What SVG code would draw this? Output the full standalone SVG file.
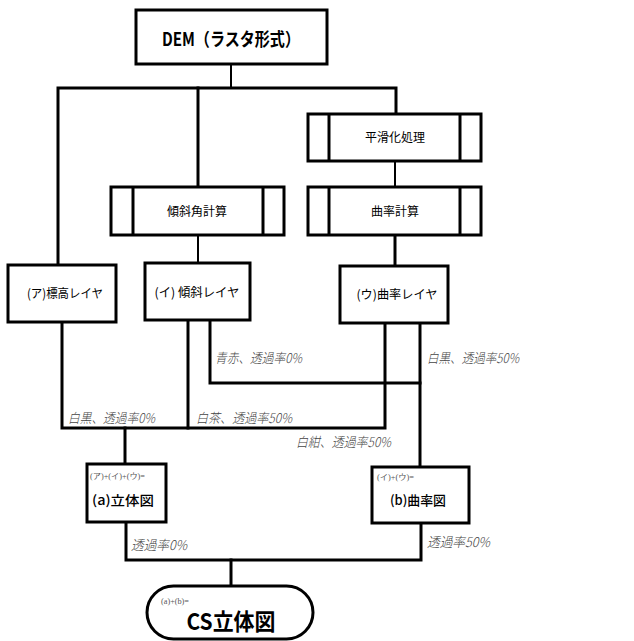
<svg xmlns="http://www.w3.org/2000/svg" width="634" height="641" viewBox="0 0 634 641">
<style>
.box{fill:#fff;stroke:#000;stroke-width:3}
.in{stroke:#000;stroke-width:3}
.w{fill:none;stroke:#000;stroke-width:3;stroke-linecap:square}
.t{fill:none;stroke:#000;stroke-width:2}
.jp{font-family:"Noto Sans CJK JP","Noto Sans",sans-serif;fill:#000}
.lab{font-family:"Noto Sans CJK JP",sans-serif;font-style:italic;font-size:13.5px;fill:#444;font-weight:300}
.sm{font-family:"Liberation Serif","Noto Sans CJK JP",serif;font-size:8px;fill:#555}
</style>
<g id="connectors">
<line class="t" x1="231" y1="64" x2="231" y2="88"/>
<polyline class="w" points="58,265 58,88 396,88 396,114"/>
<line class="w" x1="198" y1="88" x2="198" y2="187"/>
<line class="t" x1="395" y1="161" x2="395" y2="187"/>
<line class="t" x1="198" y1="235" x2="198" y2="263"/>
<line class="w" x1="395" y1="235" x2="395" y2="266"/>
<polyline class="w" points="62,322 62,428 385,428 385,323"/>
<line class="w" x1="188" y1="320" x2="188" y2="428"/>
<polyline class="w" points="210,320 210,383 420,383"/>
<line class="w" x1="420" y1="323" x2="420" y2="467"/>
<line class="w" x1="125" y1="428" x2="125" y2="464"/>
<polyline class="w" points="126,522 126,560 421,560 421,523"/>
<line class="w" x1="231" y1="560" x2="231" y2="586"/>
</g>
<g id="labels">
<text class="lab" x="215" y="363" textLength="87" lengthAdjust="spacingAndGlyphs">青赤、透過率0%</text>
<text class="lab" x="427" y="363" textLength="92" lengthAdjust="spacingAndGlyphs">白黒、透過率50%</text>
<text class="lab" x="68" y="423" textLength="87" lengthAdjust="spacingAndGlyphs">白黒、透過率0%</text>
<text class="lab" x="196" y="423" textLength="96" lengthAdjust="spacingAndGlyphs">白茶、透過率50%</text>
<text class="lab" x="296" y="447" textLength="95" lengthAdjust="spacingAndGlyphs">白紺、透過率50%</text>
<text class="lab" x="131" y="550" textLength="56" lengthAdjust="spacingAndGlyphs">透過率0%</text>
<text class="lab" x="427" y="547" textLength="63" lengthAdjust="spacingAndGlyphs">透過率50%</text>
</g>
<g id="dem">
<rect class="box" x="136" y="10" width="191" height="54"/>
<text class="jp" x="231" y="46" font-size="18" font-weight="bold" text-anchor="middle" textLength="138" lengthAdjust="spacingAndGlyphs">DEM（ラスタ形式）</text>
</g>
<g id="smooth">
<rect class="box" x="308" y="114" width="173" height="47"/>
<line class="in" x1="329" y1="114" x2="329" y2="161"/>
<line class="in" x1="460" y1="114" x2="460" y2="161"/>
<text class="jp" x="395" y="142" font-size="12" text-anchor="middle">平滑化処理</text>
</g>
<g id="slope-calc">
<rect class="box" x="111" y="187" width="173" height="48"/>
<line class="in" x1="133" y1="187" x2="133" y2="235"/>
<line class="in" x1="263" y1="187" x2="263" y2="235"/>
<text class="jp" x="197" y="216" font-size="12" text-anchor="middle">傾斜角計算</text>
</g>
<g id="curv-calc">
<rect class="box" x="308" y="187" width="173" height="48"/>
<line class="in" x1="329" y1="187" x2="329" y2="235"/>
<line class="in" x1="460" y1="187" x2="460" y2="235"/>
<text class="jp" x="395" y="216" font-size="12" text-anchor="middle">曲率計算</text>
</g>
<g id="elev-layer">
<rect class="box" x="8" y="265" width="108" height="57"/>
<text class="jp" x="65" y="298" font-size="12.5" text-anchor="middle" textLength="76" lengthAdjust="spacingAndGlyphs">(ア)標高レイヤ</text>
</g>
<g id="slope-layer">
<rect class="box" x="145" y="263" width="105" height="57"/>
<text class="jp" x="197" y="297" font-size="12.5" text-anchor="middle" textLength="85" lengthAdjust="spacingAndGlyphs">(イ) 傾斜レイヤ</text>
</g>
<g id="curv-layer">
<rect class="box" x="340" y="266" width="108" height="57"/>
<text class="jp" x="397" y="299" font-size="12.5" text-anchor="middle" textLength="81" lengthAdjust="spacingAndGlyphs">(ウ)曲率レイヤ</text>
</g>
<g id="relief">
<rect class="box" x="87" y="464" width="79" height="58"/>
<text class="sm" x="90" y="479" textLength="55" lengthAdjust="spacingAndGlyphs">(ア)+(イ)+(ウ)=</text>
<text class="jp" x="123" y="505" font-size="13" font-weight="500" text-anchor="middle" textLength="62" lengthAdjust="spacingAndGlyphs">(a)立体図</text>
</g>
<g id="curv-map">
<rect class="box" x="372" y="467" width="97" height="56"/>
<text class="sm" x="377" y="480" textLength="37" lengthAdjust="spacingAndGlyphs">(イ)+(ウ)=</text>
<text class="jp" x="418" y="505" font-size="13" font-weight="500" text-anchor="middle" textLength="56" lengthAdjust="spacingAndGlyphs">(b)曲率図</text>
</g>
<g id="cs">
<rect class="box" x="147" y="586" width="166" height="53" rx="26.5"/>
<text class="sm" x="161" y="604" textLength="28" lengthAdjust="spacingAndGlyphs">(a)+(b)=</text>
<text class="jp" x="231" y="630" font-size="23" font-weight="bold" text-anchor="middle" textLength="89" lengthAdjust="spacingAndGlyphs">CS立体図</text>
</g>
</svg>
